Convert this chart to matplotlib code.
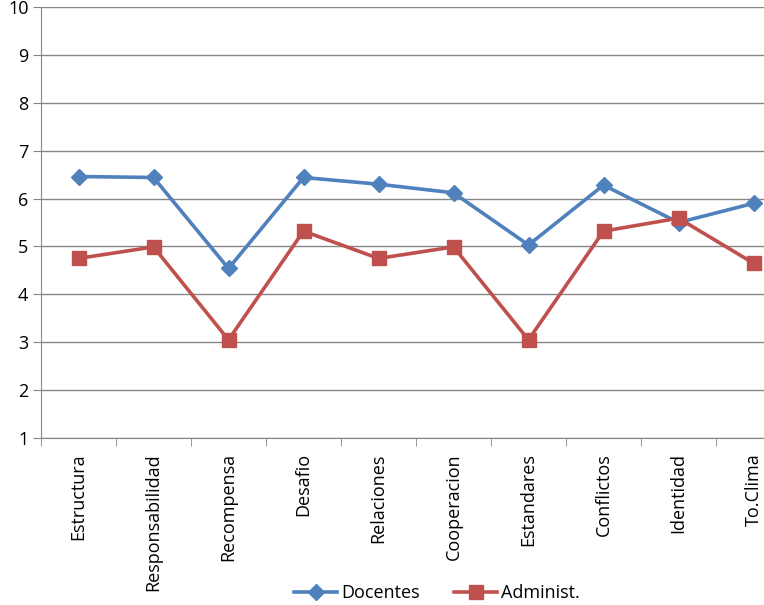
import matplotlib.pyplot as plt
import numpy as np

categorias = ['Estructura', 'Responsabilidad', 'Recompensa', 'Desafio', 'Relaciones',
              'Cooperacion', 'Estandares', 'Conflictos', 'Identidad', 'To.Clima']
docentes = [6.46, 6.44, 4.54, 6.44, 6.30, 6.12, 5.03, 6.28, 5.50, 5.90]
administ = [4.75, 4.99, 3.05, 5.32, 4.75, 4.99, 3.05, 5.32, 5.59, 4.65]

plt.rcParams['font.family'] = ['Open Sans', 'DejaVu Sans']

fig = plt.figure(figsize=(7.64, 6.05), dpi=100)
ax = fig.add_axes([41/764, 1 - 438/605, 750/764, 431/605])

x = np.arange(len(categorias))
gris = '#868686'
fs = 13

ax.plot(x, docentes, color='#4F81BD', lw=2.6, marker='D', ms=8, label='Docentes')
ax.plot(x, administ, color='#C0504D', lw=2.6, marker='s', ms=10, label='Administ.')

ax.set_xlim(-0.5, len(categorias) - 0.5)
ax.set_ylim(1, 10)
ax.set_yticks(range(1, 11))
ax.yaxis.grid(True, color=gris, lw=1)
ax.set_axisbelow(True)

ax.set_xticks(x)
ax.set_xticklabels(categorias, rotation=90, fontsize=fs)
ax.set_xticks(np.arange(-0.5, len(categorias)), minor=True)
ax.tick_params(axis='x', which='major', length=0, pad=11)
ax.tick_params(axis='x', which='minor', length=6, color=gris, direction='out')
ax.tick_params(axis='y', length=6, color=gris, labelsize=fs, pad=3)

for s in ['top', 'right']:
    ax.spines[s].set_visible(False)
for s in ['left', 'bottom']:
    ax.spines[s].set_color(gris)

fig.legend(loc='lower center', bbox_to_anchor=(437/764, -0.022), ncol=2, frameon=False,
           fontsize=fs, handlelength=2.4, columnspacing=1.9, handletextpad=0.2)

fig.savefig('out.png', dpi=100)
